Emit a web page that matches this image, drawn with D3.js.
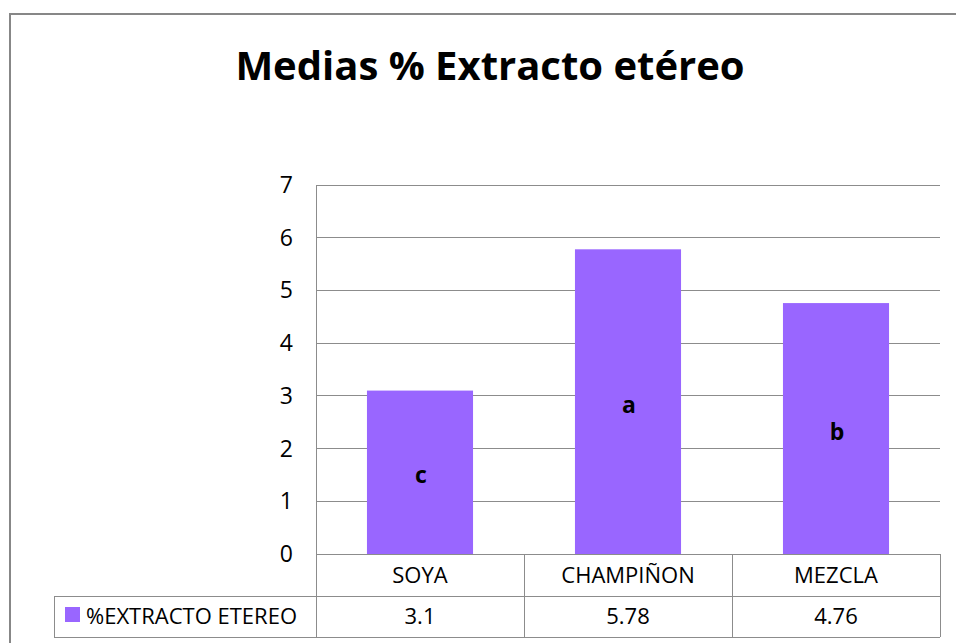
<!DOCTYPE html>
<html><head><meta charset="utf-8">
<script src="https://cdn.jsdelivr.net/npm/d3@7"></script>
<style>html,body{margin:0;padding:0;background:#fff;overflow:hidden}</style>
</head><body>
<svg id="c" width="956" height="643"></svg>
<script>
const title = "Medias % Extracto etéreo";
const categories = ["SOYA", "CHAMPIÑON", "MEZCLA"];
const seriesName = "%EXTRACTO ETEREO";
const values = [3.1, 5.78, 4.76];
const valueLabels = ["3.1", "5.78", "4.76"];
const letters = ["c", "a", "b"];
const yTicks = [0, 1, 2, 3, 4, 5, 6, 7];

const font = "'Open Sans', sans-serif";
const barColor = "#9966FF";
const gridColor = "#8c8c8c";

const svg = d3.select("#c");
const L = 316, R = 940, T = 185, B = 554;
const row1 = 596, row2 = 637, legLeft = 54;

// chart frame
svg.append("rect").attr("x", 10).attr("y", 14).attr("width", 1000).attr("height", 700)
  .attr("fill", "none").attr("stroke", "#878787").attr("stroke-width", 2);

svg.append("text").attr("x", 490).attr("y", 80).attr("text-anchor", "middle")
  .attr("font-family", font).attr("font-weight", "bold").attr("font-size", 40)
  .attr("fill", "#000").text(title);

const y = d3.scaleLinear().domain([0, 7]).range([B, T]);
const x = d3.scaleBand().domain(categories).range([L, R]).paddingInner(0.49).paddingOuter(0.245);
const xc = d3.scaleBand().domain(categories).range([L, R]);

// gridlines
svg.append("g").selectAll("line").data(yTicks.filter(d => d > 0)).join("line")
  .attr("x1", L).attr("x2", R).attr("y1", d => y(d)).attr("y2", d => y(d))
  .attr("stroke", gridColor).attr("stroke-width", 1).attr("shape-rendering", "crispEdges");

// y tick labels
svg.append("g").selectAll("text").data(yTicks).join("text")
  .attr("x", 293).attr("y", d => y(d)).attr("dy", "0.35em").attr("text-anchor", "end")
  .attr("font-family", font).attr("font-size", 23).attr("fill", "#000").text(d => d);

// bars
svg.append("g").selectAll("rect").data(values).join("rect")
  .attr("x", (d, i) => x(categories[i])).attr("width", x.bandwidth())
  .attr("y", d => y(d)).attr("height", d => y(0) - y(d)).attr("fill", barColor);

// letters
svg.append("g").selectAll("text").data(values).join("text")
  .attr("x", (d, i) => x(categories[i]) + x.bandwidth() / 2 + 1)
  .attr("y", d => (y(d) + y(0)) / 2 + 11).attr("text-anchor", "middle")
  .attr("font-family", font).attr("font-weight", "bold").attr("font-size", 23).attr("fill", "#000")
  .text((d, i) => letters[i]);

// table lines
const tbl = svg.append("g").attr("stroke", gridColor).attr("stroke-width", 1).attr("shape-rendering", "crispEdges");
tbl.append("line").attr("x1", L).attr("x2", R).attr("y1", B).attr("y2", B);
tbl.append("line").attr("x1", legLeft).attr("x2", R).attr("y1", row1).attr("y2", row1);
tbl.append("line").attr("x1", legLeft).attr("x2", R).attr("y1", row2).attr("y2", row2);
tbl.append("line").attr("x1", legLeft).attr("x2", legLeft).attr("y1", row1).attr("y2", row2);
tbl.append("line").attr("x1", L).attr("x2", L).attr("y1", T).attr("y2", row2);
tbl.selectAll(".v").data(categories).join("line").attr("class", "v")
  .attr("x1", d => xc(d) + xc.bandwidth()).attr("x2", d => xc(d) + xc.bandwidth())
  .attr("y1", B).attr("y2", row2);

// category labels
svg.append("g").selectAll("text").data(categories).join("text")
  .attr("x", d => xc(d) + xc.bandwidth() / 2).attr("y", (B + row1) / 2).attr("dy", "0.35em")
  .attr("text-anchor", "middle").attr("font-family", font).attr("font-size", 22).attr("fill", "#000")
  .text(d => d);

// value labels
svg.append("g").selectAll("text").data(valueLabels).join("text")
  .attr("x", (d, i) => xc(categories[i]) + xc.bandwidth() / 2).attr("y", (row1 + row2) / 2).attr("dy", "0.35em")
  .attr("text-anchor", "middle").attr("font-family", font).attr("font-size", 22).attr("fill", "#000")
  .text(d => d);

// legend
svg.append("rect").attr("x", 65).attr("y", 607).attr("width", 15).attr("height", 15).attr("fill", barColor);
svg.append("text").attr("x", 86).attr("y", (row1 + row2) / 2).attr("dy", "0.35em")
  .attr("font-family", font).attr("font-size", 22).attr("fill", "#000").text(seriesName);
</script>
</body></html>
